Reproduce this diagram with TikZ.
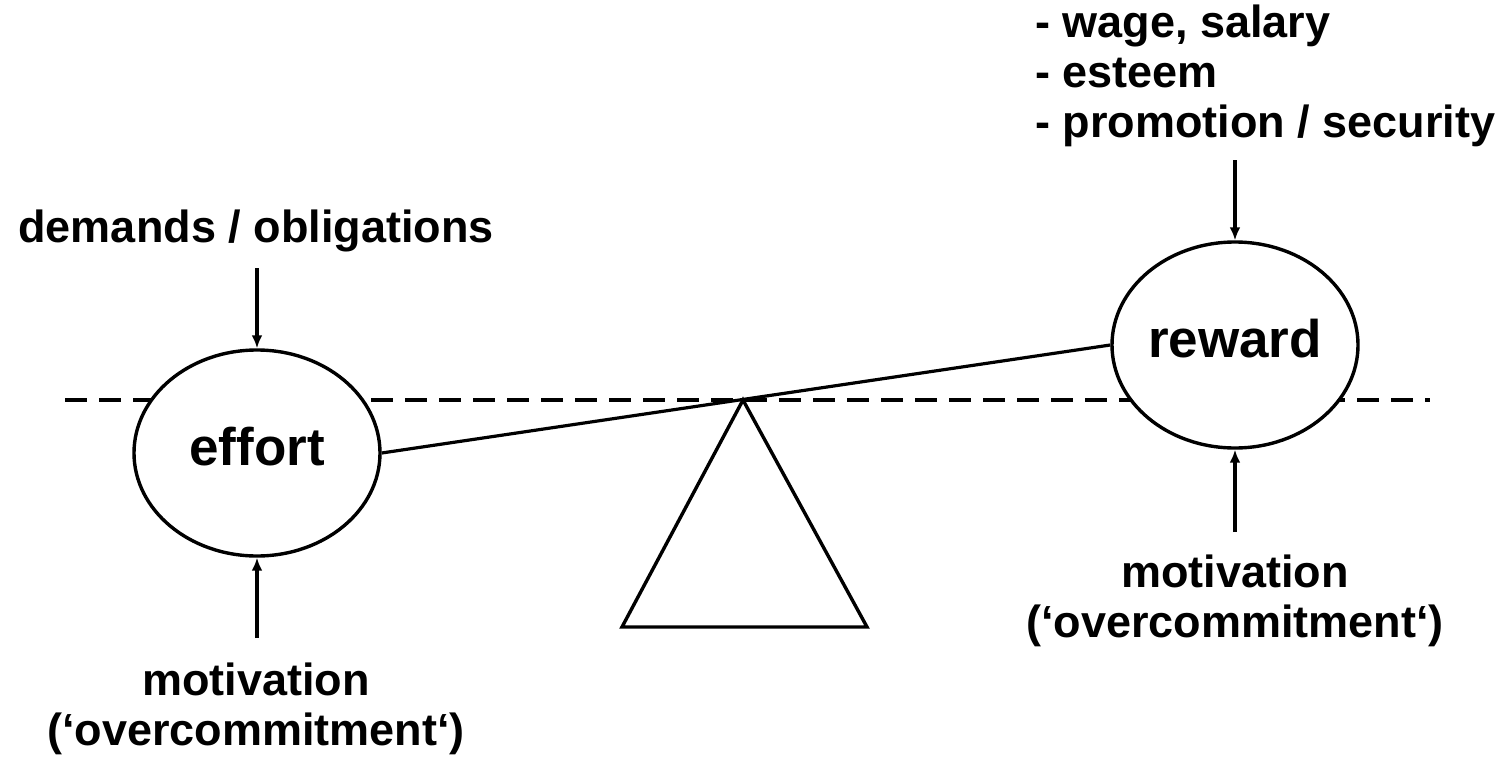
\documentclass[tikz,border=0pt]{standalone}
\usepackage{fontspec}
\setmainfont{Liberation Sans}
\usetikzlibrary{shapes.geometric,arrows.meta}

\begin{document}
\begin{tikzpicture}[x=1pt,y=-1pt,
	side/.style={ellipse,draw,fill=white,line width=3.4pt,minimum width=246pt,minimum height=206pt,inner sep=0pt,text height=24pt,text depth=0pt,font=\fontsize{53}{60}\selectfont\bfseries},
	lbl/.style={inner sep=0pt,align=center,font=\fontsize{45}{50}\selectfont\bfseries},
	push/.style={line width=3.2pt,-{Latex[length=13pt,width=11pt]}}]
\useasboundingbox (0,0) rectangle (1506,760);

\pgfmathsetmacro{\lvl}{400}
\pgfmathsetmacro{\baseY}{627}

\draw[line width=3.6pt,dash pattern=on 22pt off 12pt] (65,\lvl) -- (1430,\lvl);

\node[side] (effort) at (257,453) {effort};
\node[side] (reward) at (1235,345) {reward};

\coordinate (apex) at (743,\lvl);
\draw[line width=3.4pt,line join=miter] (apex) -- (867,\baseY) -- (622,\baseY) -- cycle;
\draw[line width=3.2pt] (effort.east) -- (reward.west);

\node[lbl,anchor=base] (demands) at (256,242) {demands / obligations};
\node[lbl,anchor=base] (motivL) at (256,745) {motivation\\(‘overcommitment‘)};
\node[lbl,anchor=base] (motivR) at (1235,637) {motivation\\(‘overcommitment‘)};
\node[lbl,align=left,anchor=base west] (gains) at (1035,137) {- wage, salary\\- esteem\\- promotion / security};

\coordinate (demandsTail) at (257,268);
\coordinate (motivLTail) at (257,638);
\coordinate (gainsTail) at (1235,160);
\coordinate (motivRTail) at (1235,532);
\draw[push] (demandsTail) -- (effort.north);
\draw[push] (motivLTail) -- (effort.south);
\draw[push] (gainsTail) -- (reward.north);
\draw[push] (motivRTail) -- (reward.south);
\end{tikzpicture}
\end{document}
